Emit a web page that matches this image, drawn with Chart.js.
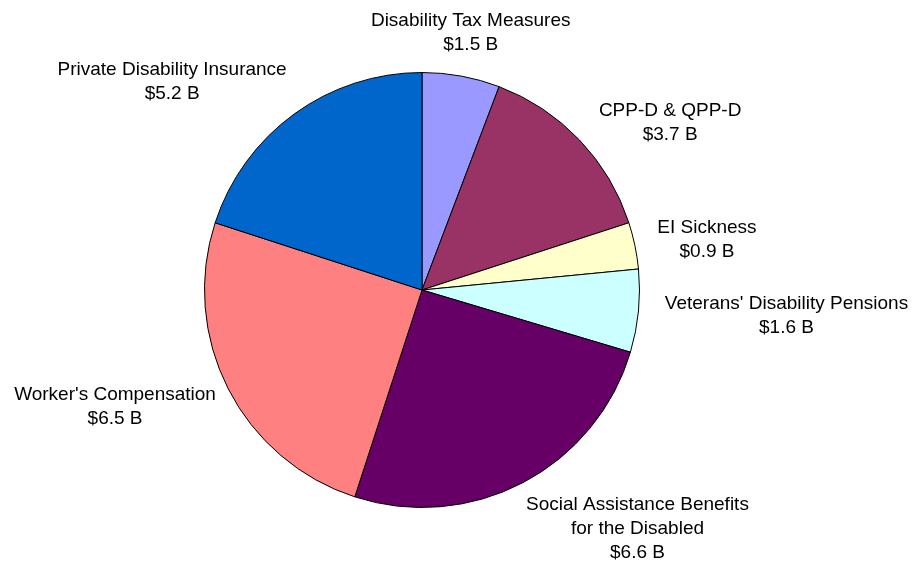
<!DOCTYPE html>
<html>
<head>
<meta charset="utf-8">
<script src="https://cdn.jsdelivr.net/npm/chart.js@4/dist/chart.umd.min.js"></script>
<style>
html,body{margin:0;padding:0;background:#fff;}
#wrap{width:914px;height:563px;position:relative;}
</style>
</head>
<body>
<div id="wrap"><canvas id="c" width="914" height="563"></canvas></div>
<script>
const categories = [
  ["Disability Tax Measures"],
  ["CPP-D & QPP-D"],
  ["EI Sickness"],
  ["Veterans' Disability Pensions"],
  ["Social Assistance Benefits", "for the Disabled"],
  ["Worker's Compensation"],
  ["Private Disability Insurance"]
];
const values = [1.5, 3.7, 0.9, 1.6, 6.6, 6.5, 5.2];
const valueLabels = ["$1.5 B", "$3.7 B", "$0.9 B", "$1.6 B", "$6.6 B", "$6.5 B", "$5.2 B"];
const colors = ["#9999FF", "#993366", "#FFFFCC", "#CCFFFF", "#660066", "#FF8080", "#0066CC"];

// label nudges (pixels) relative to the geometric placement
const labelNudge = [[-13,5],[21,17],[-1,4],[2,0],[51,-8],[-1,-4],[-40,7]];

const FONT = '19px "Liberation Sans", Arial, sans-serif';
const LINE_H = 24;

const outsideLabels = {
  id: 'outsideLabels',
  afterDatasetsDraw(chart) {
    const ctx = chart.ctx;
    const meta = chart.getDatasetMeta(0);
    ctx.save();
    ctx.font = FONT;
    ctx.fillStyle = '#000';
    ctx.textAlign = 'center';
    ctx.textBaseline = 'middle';
    meta.data.forEach((arc, i) => {
      const p = arc.getProps(['x','y','startAngle','endAngle','outerRadius'], true);
      const mid = (p.startAngle + p.endAngle) / 2;
      const lines = categories[i].concat([valueLabels[i]]);
      let w = 0;
      lines.forEach(l => { w = Math.max(w, ctx.measureText(l).width); });
      const h = lines.length * LINE_H;
      const R = p.outerRadius + 25;
      const cx0 = p.x + Math.cos(mid) * R;
      const cy0 = p.y + Math.sin(mid) * R;
      const cx = cx0 + Math.cos(mid) * w / 2 + labelNudge[i][0];
      const cy = cy0 + Math.sin(mid) * h / 2 + labelNudge[i][1];
      lines.forEach((l, k) => {
        ctx.fillText(l, cx, cy - h / 2 + LINE_H / 2 + k * LINE_H);
      });
    });
    ctx.restore();
  }
};

new Chart(document.getElementById('c'), {
  type: 'pie',
  data: {
    labels: categories.map(c => c.join(' ')),
    datasets: [{
      data: values,
      backgroundColor: colors,
      borderColor: '#000',
      borderWidth: 1,
      borderAlign: 'center'
    }]
  },
  options: {
    responsive: false,
    animation: false,
    events: [],
    layout: { padding: { left: 204, right: 274, top: 72, bottom: 55 } },
    plugins: { legend: { display: false }, tooltip: { enabled: false } }
  },
  plugins: [outsideLabels]
});
</script>
</body>
</html>
